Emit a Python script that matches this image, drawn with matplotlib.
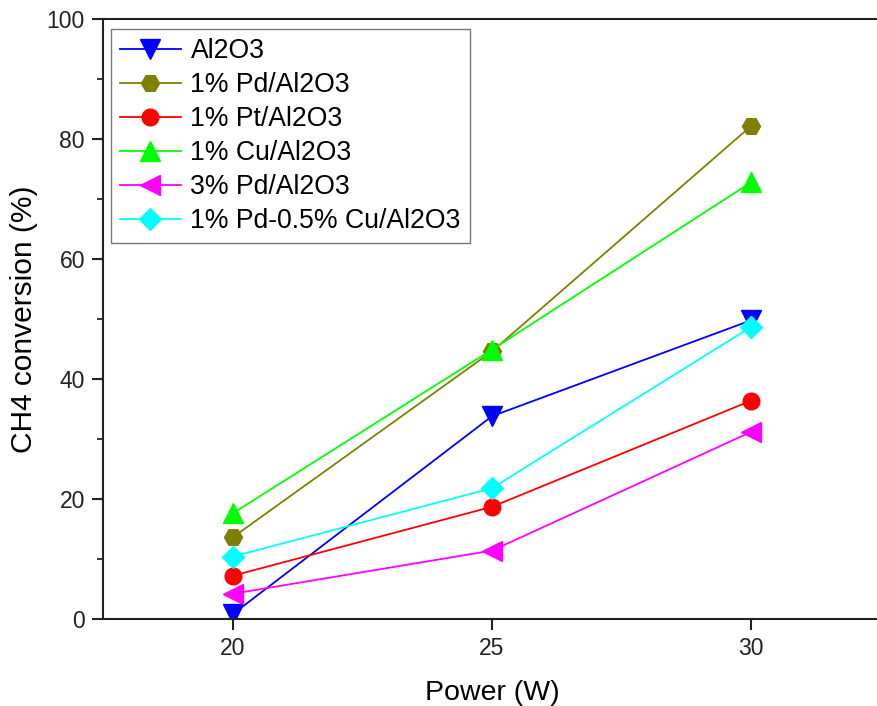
import matplotlib
matplotlib.use("Agg")
import matplotlib.pyplot as plt
from matplotlib.ticker import AutoMinorLocator

plt.rcParams['font.family'] = ['Liberation Sans', 'DejaVu Sans']

power = [20, 25, 30]
labels = ["Al2O3", "1% Pd/Al2O3", "1% Pt/Al2O3", "1% Cu/Al2O3", "3% Pd/Al2O3", "1% Pd-0.5% Cu/Al2O3"]
al2o3 = [0.8, 33.8, 49.8]
pd1 = [13.6, 44.6, 82.2]
pt1 = [7.2, 18.7, 36.4]
cu1 = [17.6, 44.9, 72.8]
pd3 = [4.2, 11.4, 31.2]
pdcu = [10.4, 21.8, 48.7]

series = [al2o3, pd1, pt1, cu1, pd3, pdcu]
colors = ["#0000FF", "#808000", "#FF0000", "#00FF00", "#FF00FF", "#00FFFF"]
markers = ["v", "H", "o", "^", "<", "D"]
msizes = [14, 13, 12, 14, 14, 11]

W, H = 877, 706
fig = plt.figure(figsize=(W / 100, H / 100), dpi=100)
ax = fig.add_axes([103 / W, (H - 619) / H, (881 - 103) / W, (619 - 19) / H])

for y, c, m, ms, lab in zip(series, colors, markers, msizes, labels):
    ax.plot(power, y, color=c, marker=m, markersize=ms, linewidth=1.3,
            markeredgecolor=c, label=lab)

ax.set_xlim(17.5, 32.5)
ax.set_ylim(0, 100)
ax.set_xticks([20, 25, 30])
ax.set_yticks([0, 20, 40, 60, 80, 100])
ax.yaxis.set_minor_locator(AutoMinorLocator(2))
ax.tick_params(which='major', direction='out', length=8, width=1.5, labelsize=16.5,
               colors='#222222', pad=5)
ax.tick_params(which='minor', direction='out', length=4, width=1.3, colors='#222222')
for s in ax.spines.values():
    s.set_linewidth(1.5)
    s.set_color('#222222')

ax.set_xlabel("Power (W)", fontsize=20.5, labelpad=14)
ax.set_ylabel("CH4 conversion (%)", fontsize=21.5, labelpad=6)

leg = ax.legend(loc='upper left', bbox_to_anchor=(0.0103, 0.983), fontsize=19.2,
                frameon=True, fancybox=False, edgecolor='#555555',
                handlelength=2.3, handletextpad=0.35, labelspacing=0.3,
                borderpad=0.33, borderaxespad=0.0)
leg.get_frame().set_linewidth(1.0)

fig.savefig("out.png", dpi=100)
